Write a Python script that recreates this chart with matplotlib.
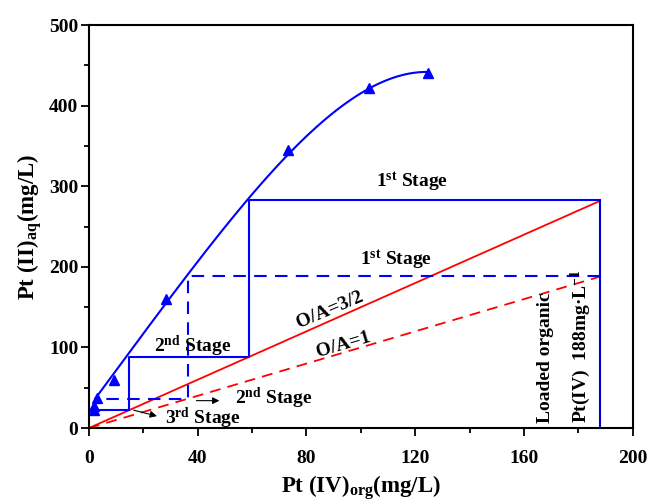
import numpy as np
import matplotlib
matplotlib.use('Agg')
import matplotlib.pyplot as plt

plt.rcParams['font.family'] = ['Liberation Serif', 'DejaVu Serif']
plt.rcParams['font.weight'] = 'bold'
plt.rcParams['mathtext.default'] = 'regular'

# isotherm data (Pt(IV) in organic vs Pt(II) in aqueous)
pt_org = [1.8, 1.9, 2.8, 9.3, 28.2, 73.2, 103.0, 124.6]
pt_aq = [22, 27, 37, 60, 160, 345, 422, 441]

# points
curve_org = [2.5, 14.3, 28.0, 36.3, 58.7, 73.0, 102.4, 124.4]
curve_aq = [38, 89, 156, 190, 283, 340, 420, 442]

# operating lines
feed_org = 188
ratio_32 = 1.5
ratio_1 = 1.0

# stage steps, solid (O/A=3/2) and dashed (O/A=1)
solid_x = [188, 59.0, 59.0, 14.6, 14.6, 1.8]
solid_y = [283, 283, 88.5, 88.5, 23.0, 23.0]
dash_x = [188, 36.3, 36.3, 1.8]
dash_y = [189, 189, 36.0, 36.0]

fig = plt.figure(figsize=(6.49, 5.03), dpi=100)
ax = fig.add_axes([0.137, 0.149, 0.838, 0.801])

blue = '#0000ff'
red = '#ff0000'

# fitted isotherm curve
coef = np.polyfit(curve_org, curve_aq, 4)
xs = np.linspace(2.5, 125, 200)
ax.plot(xs, np.polyval(coef, xs), color=blue, lw=1.5)
ax.plot(pt_org, pt_aq, '^', color=blue, ms=7, mec=blue)

# operating lines
ax.plot([0, feed_org], [0, feed_org * ratio_32], color=red, lw=1.3)
ax.plot([0, feed_org], [0, feed_org * ratio_1], color=red, lw=1.3, ls=(0, (6, 4)))

ax.plot(solid_x, solid_y, color=blue, lw=1.5)
ax.plot(dash_x, dash_y, color=blue, lw=1.5, ls=(0, (6, 4)))
ax.plot([feed_org, feed_org], [0, feed_org * ratio_32], color='#0000cc', lw=1.5)

# labels
fs = 14
ax.text(119, 305, '1$^{st}$ Stage', fontsize=fs, ha='center', va='center')
ax.text(113, 208, '1$^{st}$ Stage', fontsize=fs, ha='center', va='center')
ax.text(38, 101, '2$^{nd}$ Stage', fontsize=fs, ha='center', va='center')
ax.text(68, 37, '2$^{nd}$ Stage', fontsize=fs, ha='center', va='center')
ax.text(42, 12, '3$^{rd}$ Stage', fontsize=fs, ha='center', va='center')
ax.text(88.5, 146, 'O/A=3/2', fontsize=fs, ha='center', va='center', rotation=23)
ax.text(93.5, 103, 'O/A=1', fontsize=fs, ha='center', va='center', rotation=16.5)
ax.text(168, 6, 'Loaded organic', fontsize=fs, ha='center', va='bottom', rotation=90)
ax.text(181, 6, 'Pt(IV)  188mg·L$^{-1}$', fontsize=fs, ha='center', va='bottom', rotation=90)

ax.annotate('', xy=(49, 34), xytext=(38.5, 34),
            arrowprops=dict(arrowstyle='-|>', color='black', lw=0.8, mutation_scale=10))
ax.annotate('', xy=(26, 14), xytext=(15.5, 23),
            arrowprops=dict(arrowstyle='-|>', color='black', lw=0.8, mutation_scale=10))

ax.set_xlim(0, 200)
ax.set_ylim(0, 500)
ax.set_xticks(np.arange(0, 201, 40))
ax.set_xticks(np.arange(20, 201, 40), minor=True)
ax.set_yticks(np.arange(0, 501, 100))
ax.set_yticks(np.arange(50, 501, 100), minor=True)
ax.tick_params(which='both', direction='out', width=1.3, labelsize=14)
ax.tick_params(which='major', length=6)
ax.tick_params(which='minor', length=3.5)
ax.tick_params(axis='x', pad=10)
ax.tick_params(axis='y', pad=1.5)
for s in ax.spines.values():
    s.set_linewidth(1.5)

ax.set_xlabel('Pt (IV)$_{org}$(mg/L)', fontsize=16.5, fontweight='bold', labelpad=4)
ax.set_ylabel('Pt (II)$_{aq}$(mg/L)', fontsize=16.5, fontweight='bold', labelpad=4)

fig.savefig('out.png', dpi=100)
